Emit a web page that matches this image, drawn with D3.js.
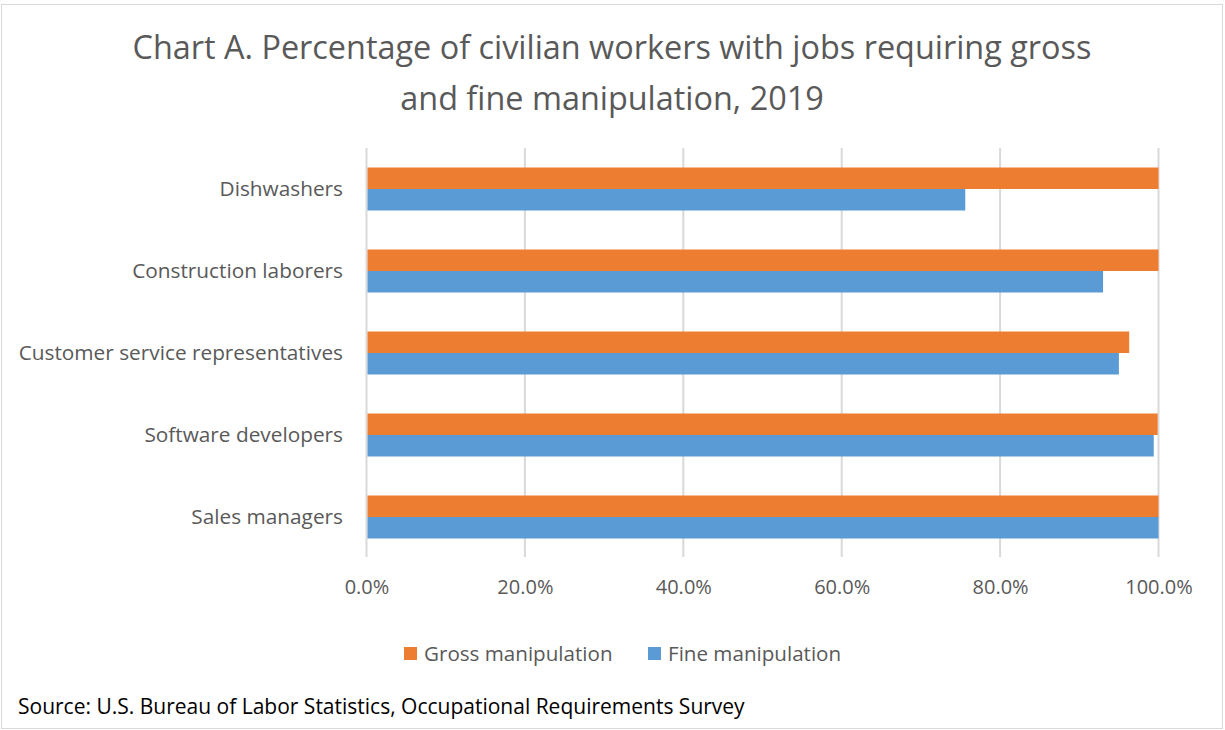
<!DOCTYPE html>
<html>
<head>
<meta charset="utf-8">
<script src="https://cdn.jsdelivr.net/npm/d3@7"></script>
<style>
  html, body { margin: 0; padding: 0; background: #fff; }
  svg { display: block; font-family: 'Open Sans', Lato, sans-serif; }
</style>
</head>
<body>
<svg id="chart" width="1225" height="730"></svg>
<script>
const categories = [
  'Dishwashers',
  'Construction laborers',
  'Customer service representatives',
  'Software developers',
  'Sales managers'
];
const seriesNames = ['Gross manipulation', 'Fine manipulation'];
const grossValues = [1.0, 1.0, 0.963, 0.999, 1.0];
const fineValues = [0.756, 0.930, 0.950, 0.994, 1.0];
const tickValues = [0, 0.2, 0.4, 0.6, 0.8, 1.0];
const titleLines = [
  'Chart A. Percentage of civilian workers with jobs requiring gross',
  'and fine manipulation, 2019'
];
const sourceText = 'Source: U.S. Bureau of Labor Statistics, Occupational Requirements Survey';

const colors = ['#ED7D31', '#5B9BD5'];
const textColor = '#595959';
const gridColor = '#D9D9D9';

const svg = d3.select('#chart');

// outer chart border
svg.append('rect')
  .attr('x', 1.5).attr('y', 4.5)
  .attr('width', 1221).attr('height', 724)
  .attr('fill', '#fff')
  .attr('stroke', '#D9D9D9');

// title
svg.append('g')
  .selectAll('text')
  .data(titleLines)
  .enter()
  .append('text')
  .attr('x', 612)
  .attr('y', (d, i) => 59 + i * 51)
  .attr('text-anchor', 'middle')
  .attr('fill', textColor)
  .style('font-size', '32.4px')
  .text(d => d);

const x = d3.scaleLinear().domain([0, 1]).range([366.5, 1158.5]);
const y = d3.scaleBand()
  .domain(categories)
  .range([148, 558])
  .paddingInner(0.4756)
  .paddingOuter(0.2378);
const ySub = d3.scaleBand().domain(seriesNames).range([0, y.bandwidth()]);

// gridlines
svg.append('g')
  .selectAll('line')
  .data(tickValues)
  .enter()
  .append('line')
  .attr('x1', d => x(d)).attr('x2', d => x(d))
  .attr('y1', 148).attr('y2', 557)
  .attr('stroke', gridColor)
  .attr('stroke-width', 2);

// x axis labels
const xAxis = svg.append('g')
  .attr('transform', 'translate(0, 558)')
  .call(d3.axisBottom(x).tickValues(tickValues).tickFormat(d3.format('.1%')).tickSize(0).tickPadding(22));
xAxis.select('.domain').remove();
xAxis.selectAll('text')
  .attr('fill', textColor)
  .style('font-family', "'Open Sans', sans-serif")
  .style('font-size', '20px');

// y axis labels
const yAxis = svg.append('g')
  .attr('transform', 'translate(343, 0)')
  .call(d3.axisLeft(y).tickSize(0).tickPadding(0));
yAxis.select('.domain').remove();
yAxis.selectAll('text')
  .attr('fill', textColor)
  .attr('dy', '0.32em')
  .style('font-family', "'Open Sans', sans-serif")
  .style('font-size', '20.8px');

// bars
const rows = categories.map((c, i) => ({
  category: c,
  values: [grossValues[i], fineValues[i]]
}));

const groups = svg.append('g')
  .selectAll('g')
  .data(rows)
  .enter()
  .append('g')
  .attr('transform', d => `translate(0, ${y(d.category)})`);

groups.selectAll('rect')
  .data(d => d.values.map((v, j) => ({ name: seriesNames[j], value: v, idx: j })))
  .enter()
  .append('rect')
  .attr('x', x(0) + 1)
  .attr('y', d => ySub(d.name))
  .attr('width', d => x(d.value) - x(0) - 1)
  .attr('height', ySub.bandwidth())
  .attr('fill', d => colors[d.idx]);

// legend
const legendItems = [
  { name: seriesNames[0], color: colors[0], x: 404 },
  { name: seriesNames[1], color: colors[1], x: 648 }
];
const legend = svg.append('g')
  .selectAll('g')
  .data(legendItems)
  .enter()
  .append('g')
  .attr('transform', d => `translate(${d.x}, 647)`);
legend.append('rect')
  .attr('width', 13).attr('height', 13)
  .attr('fill', d => d.color);
legend.append('text')
  .attr('x', 20).attr('y', 13.5)
  .attr('fill', textColor)
  .style('font-size', '20.6px')
  .text(d => d.name);

// source
svg.append('text')
  .attr('x', 18).attr('y', 714)
  .attr('fill', '#000')
  .style('font-size', '21px')
  .text(sourceText);
</script>
</body>
</html>
